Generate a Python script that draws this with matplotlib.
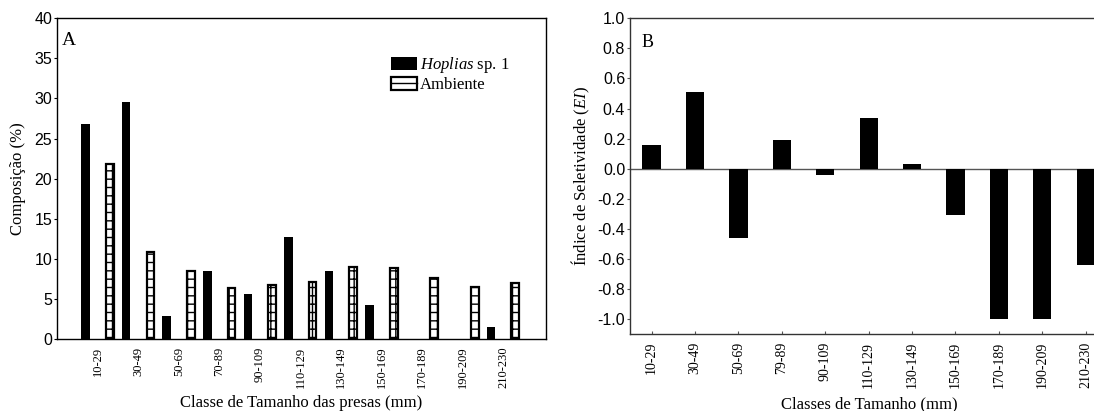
import matplotlib
matplotlib.use("Agg")
import matplotlib.pyplot as plt
import numpy as np
from matplotlib.patches import Patch
from matplotlib.lines import Line2D

plt.rcParams['mathtext.fontset'] = 'custom'
plt.rcParams['mathtext.rm'] = 'Liberation Serif'
plt.rcParams['mathtext.it'] = 'Liberation Serif:italic'
plt.rcParams['hatch.linewidth'] = 1.0

# ---- data ----
classes_a = ["10-29", "30-49", "50-69", "70-89", "90-109", "110-129",
             "130-149", "150-169", "170-189", "190-209", "210-230"]
hoplias = [26.8, 29.6, 2.9, 8.5, 5.6, 12.7, 8.5, 4.2, 0.0, 0.0, 1.5]
ambiente = [21.8, 10.8, 8.5, 6.3, 6.7, 7.1, 9.0, 8.9, 7.6, 6.5, 7.0]

classes_b = ["10-29", "30-49", "50-69", "79-89", "90-109", "110-129",
             "130-149", "150-169", "170-189", "190-209", "210-230"]
selectivity = [0.16, 0.51, -0.46, 0.19, -0.04, 0.34, 0.03, -0.31, -1.0, -1.0, -0.64]

yticks_a = [0, 5, 10, 15, 20, 25, 30, 35, 40]
yticks_b = [-1.0, -0.8, -0.6, -0.4, -0.2, 0.0, 0.2, 0.4, 0.6, 0.8, 1.0]

serif = 'Liberation Serif'
sans = 'Liberation Sans'

fig = plt.figure(figsize=(10.94, 4.11), dpi=100)
W, H = 1094, 411

def axrect(l, r, t, b):
    return [l / W, 1 - b / H, (r - l) / W, (b - t) / H]

# ---- panel A ----
axA = fig.add_axes(axrect(57.3, 545.7, 18.3, 339))
x = np.arange(len(classes_a))
axA.bar(x - 0.3, hoplias, width=0.21, color='black', edgecolor='black', linewidth=0)
axA.bar(x + 0.3, ambiente, width=0.19, color='white', edgecolor='black',
        linewidth=1.6, hatch='++')
axA.set_xlim(-1.0, 11.05)
axA.set_ylim(0, 40)
axA.set_yticks(yticks_a)
axA.set_yticklabels([str(v) for v in yticks_a], fontfamily=sans, fontsize=11.5)
axA.set_xticks(x)
axA.set_xticklabels(classes_a, rotation=90, fontfamily=serif, fontsize=9)
axA.tick_params(axis='x', length=0, pad=5.5)
axA.tick_params(axis='y', direction='out', length=2.5, width=0.8, pad=1.3)
for s in axA.spines.values():
    s.set_linewidth(1.0)
axA.set_ylabel("Composição (%)", fontfamily=serif, fontsize=12)
axA.yaxis.set_label_coords(-0.0805, 0.5)
axA.yaxis.label.set_va('center')
axA.set_xlabel("Classe de Tamanho das presas (mm)", fontfamily=serif, fontsize=12)
axA.xaxis.set_label_coords(0.5, -0.2)
axA.xaxis.label.set_va('center')
axA.text(0.0096, 0.917, "A", transform=axA.transAxes, fontfamily=serif,
         fontsize=14, ha='left', va='baseline')

h_black = Patch(facecolor='black', edgecolor='black', linewidth=0)
h_amb = (Patch(facecolor='white', edgecolor='black', linewidth=1.6),
         Line2D([], [], color='black', linewidth=1.0))
leg = axA.legend([h_black, h_amb], ["$Hoplias$ sp. 1", "Ambiente"], loc='upper left',
                 bbox_to_anchor=(391 / W, 1 - 55 / H), bbox_transform=fig.transFigure,
                 frameon=False, borderpad=0, borderaxespad=0, handlelength=1.55,
                 handleheight=0.85, handletextpad=0.2, labelspacing=0.1,
                 prop={'family': serif, 'size': 12})

# ---- panel B ----
axB = fig.add_axes(axrect(630.3, 1107.4, 18.3, 334))
xb = np.arange(len(classes_b))
axB.axhline(0, color='#555555', linewidth=1.0, zorder=0.5)
axB.bar(xb, selectivity, width=0.42, color='black', linewidth=0, zorder=2)
axB.set_xlim(-0.49, 10.5)
axB.set_ylim(-1.098, 1.0)
axB.set_yticks(yticks_b)
axB.set_yticklabels([f"{v:.1f}" for v in yticks_b], fontfamily=sans, fontsize=11.5)
axB.set_xticks(xb)
axB.set_xticklabels(classes_b, rotation=90, fontfamily=serif, fontsize=10)
axB.tick_params(axis='x', direction='in', length=2.5, width=0.8, pad=5.5, color='#555555')
axB.tick_params(axis='y', direction='out', length=2.5, width=0.8, pad=1.2, color='#555555')
for s in axB.spines.values():
    s.set_linewidth(1.0)
    s.set_color('#333333')
axB.set_ylabel("Índice de Seletividade ($EI$)", fontfamily=serif, fontsize=12)
axB.yaxis.set_label_coords(-0.103, 0.5)
axB.yaxis.label.set_va('center')
axB.set_xlabel("Classes de Tamanho (mm)", fontfamily=serif, fontsize=12)
axB.xaxis.set_label_coords(0.5, -0.222)
axB.xaxis.label.set_va('center')
axB.text(0.0245, 0.91, "B", transform=axB.transAxes, fontfamily=serif,
         fontsize=13, ha='left', va='baseline')

fig.savefig("out.png", dpi=100)
